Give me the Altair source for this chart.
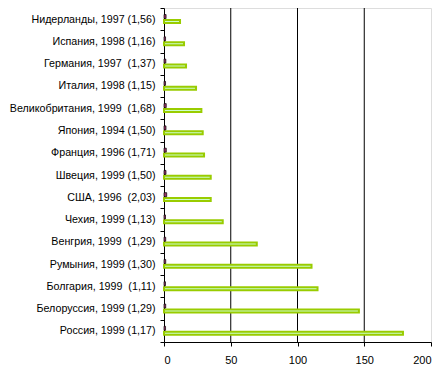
import altair as alt
import pandas as pd

countries = [
    "Нидерланды, 1997 (1,56)",
    "Испания, 1998 (1,16)",
    "Германия, 1997 \u00a0(1,37)",
    "Италия, 1998 (1,15)",
    "Великобритания, 1999 \u00a0(1,68)",
    "Япония, 1994 (1,50)",
    "Франция, 1996 (1,71)",
    "Швеция, 1999 (1,50)",
    "США, 1996 \u00a0(2,03)",
    "Чехия, 1999 (1,13)",
    "Венгрия, 1999 \u00a0(1,29)",
    "Румыния, 1999 (1,30)",
    "Болгария, 1999 \u00a0(1,11)",
    "Белоруссия, 1999 (1,29)",
    "Россия, 1999 (1,17)",
]
coef_values = [1.56, 1.16, 1.37, 1.15, 1.68, 1.50, 1.71, 1.50, 2.03, 1.13, 1.29, 1.30, 1.11, 1.29, 1.17]
main_values = [12, 15, 16.5, 24, 28, 29, 30, 35, 35, 44, 69.5, 110.5, 115, 146, 179]
grid_values = [50, 100, 150]

df = pd.DataFrame({"country": countries, "coef": coef_values, "main": main_values})
grid_df = pd.DataFrame({"value": grid_values})

xscale = alt.Scale(domain=[0, 200], nice=False, zero=True)
yaxis = alt.Axis(
    title=None,
    tickBand="extent",
    tickSize=4,
    tickColor="black",
    domainColor="black",
    labelFontSize=10.7,
    labelFont="Liberation Sans",
    labelColor="black",
    labelPadding=5,
    labelLimit=200,
)
xaxis = alt.Axis(
    title=None,
    values=[0, 50, 100, 150, 200],
    grid=False,
    tickSize=4,
    tickColor="black",
    domainColor="black",
    labelFontSize=11,
    labelFont="Liberation Sans",
    labelColor="black",
    labelPadding=8,
)
yenc = alt.Y("country:N", sort=countries, scale=alt.Scale(paddingInner=0, paddingOuter=0), axis=yaxis)

grid = alt.Chart(grid_df).mark_rule(color="black", strokeWidth=1).encode(
    x=alt.X("value:Q", scale=xscale, axis=xaxis)
)

green = alt.Chart(df).mark_bar(
    height=3, yOffset=2.3, fill="#ccffcc", stroke="#99cc00", strokeWidth=2
).encode(
    y=yenc,
    x=alt.X("main:Q", scale=xscale, axis=xaxis),
)

maroon = alt.Chart(df).mark_bar(
    height=4, yOffset=-2.6, fill="#993366", stroke="#000000", strokeWidth=0.7
).encode(
    y=yenc,
    x=alt.X("coef:Q", scale=xscale, axis=xaxis),
)

chart = (
    alt.layer(grid, green, maroon)
    .properties(
        width=267,
        height=334,
        autosize=alt.AutoSizeParams(type="none"),
        padding={"left": 156, "top": 0, "right": 8, "bottom": 26},
    )
    .configure_view(stroke="#d4d4d4", strokeWidth=1)
    .configure(background="white")
)

chart.save("out.html", embed_options={"renderer": "svg", "actions": False})
